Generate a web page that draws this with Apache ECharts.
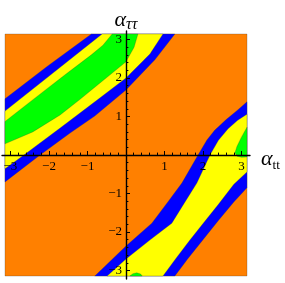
<!DOCTYPE html>
<html><head><meta charset="utf-8">
<script src="https://cdn.jsdelivr.net/npm/echarts@6/dist/echarts.min.js"></script>
<style>html,body{margin:0;padding:0;background:#fff}#c{width:285px;height:283px}</style>
</head><body><div id="c"></div>
<script>
const PI = 3.1416;
// axis ticks
const majorTicks = [-3, -2, -1, 0, 1, 2, 3];
const tickLabels = [-3, -2, -1, 1, 2, 3];
const minorTicks = [-2.8, -2.6, -2.4, -2.2, -1.8, -1.6, -1.4, -1.2, -0.8, -0.6, -0.4, -0.2,
  0.2, 0.4, 0.6, 0.8, 1.2, 1.4, 1.6, 1.8, 2.2, 2.4, 2.6, 2.8];

// contour boundaries (alpha_tt, alpha_tautau)
const frame = [[-PI, -PI], [PI, -PI], [PI, PI], [-PI, PI]];
// upper-left band
const B1 = [[-PI, 1.46], [-2.05, 2.30], [-0.90, PI]];                       // orange/blue
const B2 = [[-PI, 1.14], [-1.97, 2.07], [-0.62, PI]];                       // blue/yellow
const B3 = [[-PI, 0.87], [-2.4, 1.45], [-1.6, 2.07], [-0.9, 2.60], [-0.6, 2.85], [-0.36, PI]]; // yellow/green
const B4 = [[-PI, 0.29], [-2.42, 0.60], [-1.71, 1.04], [-1.2, 1.44], [-0.675, 1.87], [0, 2.42], [0.21, 2.80], [0.31, PI]]; // green/yellow
const B7 = [[-PI, -0.36], [-2.65, 0], [-1.71, 0.70], [-0.81, 1.38], [0, 2.0], [0.62, 2.62], [0.96, PI]]; // yellow/blue
const B8 = [[-PI, -0.70], [-2.23, 0], [-1.45, 0.57], [-0.81, 1.01], [0, 1.69], [0.75, 2.47], [1.27, PI]]; // blue/orange
// lower-right band
const C1 = [[-0.81, -PI], [0, -2.36], [0.67, -1.77], [1.1, -1.2], [1.45, -0.73], [1.87, 0], [2.1, 0.39],
  [2.3, 0.64], [2.6, 0.92], [2.9, 1.17], [PI, 1.38]];
const C2 = [[-0.49, -PI], [0, -2.70], [0.62, -2.21], [1.19, -1.77], [1.5, -1.27], [1.84, -0.73], [2.18, 0],
  [2.4, 0.38], [2.65, 0.68], [2.9, 0.9], [PI, 1.06]];
const C3 = [[0.96, -PI], [1.3, -2.68], [1.65, -2.22], [2.0, -1.78], [2.4, -1.28], [2.8, -0.76], [PI, -0.44]];
const C4 = [[1.27, -PI], [1.6, -2.70], [2.0, -2.2], [2.4, -1.70], [2.8, -1.22], [PI, -0.85]];
// small green islands
const GR = [[PI, 0.72], [3.0, 0.47], [2.88, 0.22], [2.83, 0.06], [2.88, -0.03], [3.0, -0.06], [PI, -0.05]];
const GB = [[0.1, -PI], [0.18, -3.08], [0.28, -3.06], [0.38, -3.09], [0.42, -PI]];

const rev = a => a.slice().reverse();
const regions = [
  { pts: frame, color: '#FF8000' },
  { pts: B1.concat(rev(B8)), color: '#0000FF' },
  { pts: C1.concat(rev(C4)), color: '#0000FF' },
  { pts: B2.concat(rev(B7)), color: '#FFFF00' },
  { pts: C2.concat(rev(C3)), color: '#FFFF00' },
  { pts: B3.concat(rev(B4)), color: '#00FF00' },
  { pts: GR, color: '#00FF00' },
  { pts: GB, color: '#00FF00' }
];

const AX = 3.2195;
const GW = 248;
const fmt = v => (v === 0 ? '' : String(v).replace('-', '\u2212'));
const serif = 'Liberation Serif';
function mkAxis(dim, major) {
  const o = {
    type: 'value', min: -AX, max: AX,
    position: dim === 'x' ? 'bottom' : 'left',
    offset: -GW / 2,
    splitLine: { show: false },
    axisLine: { show: major, onZero: false, lineStyle: { color: '#000', width: 1.4 } },
    axisTick: { show: true, inside: true, length: major ? 4 : 2.4, customValues: major ? majorTicks : minorTicks,
      lineStyle: { color: '#000', width: 1 } },
    axisLabel: major ? { customValues: tickLabels, formatter: fmt, fontFamily: serif, fontSize: 13, color: '#000',
                         margin: dim === 'x' ? 5 : 4 }
                     : { show: false },
    z: 5
  };
  if (major) {
    o.name = dim === 'x' ? '{a|\u03b1}{s|tt}' : '{a|\u03b1}{t|\u03c4\u03c4}';
    o.nameLocation = 'end';
    o.nameGap = dim === 'x' ? 11 : -4;
    o.nameTextStyle = {
      padding: dim === 'x' ? [8, 0, 0, 0] : 0,
      rich: {
        a: { fontFamily: serif, fontStyle: 'italic', fontSize: 22, lineHeight: 26, color: '#000' },
        s: { fontFamily: serif, fontSize: 13, lineHeight: 14, verticalAlign: 'bottom', color: '#000' },
        t: { fontFamily: serif, fontStyle: 'italic', fontSize: 16, lineHeight: 15, verticalAlign: 'bottom', color: '#000' }
      } };
  }
  return o;
}

const chart = echarts.init(document.getElementById('c'), null, { renderer: 'canvas' });
chart.setOption({
  animation: false,
  backgroundColor: '#fff',
  grid: { left: 2, top: 31, width: GW, height: GW, containLabel: false, outerBoundsMode: 'none' },
  xAxis: [mkAxis('x', true), mkAxis('x', false)],
  yAxis: [mkAxis('y', true), mkAxis('y', false)],
  series: regions.map(r => ({
    type: 'custom', coordinateSystem: 'cartesian2d', xAxisIndex: 0, yAxisIndex: 0,
    silent: true, data: r.pts,
    renderItem: (params, api) => {
      if (params.dataIndex !== 0) return null;
      return { type: 'polygon', shape: { points: r.pts.map(p => api.coord(p)) },
        style: { fill: r.color, stroke: 'rgba(60,60,60,0.45)', lineWidth: 0.6 } };
    }
  }))
});
</script></body></html>
